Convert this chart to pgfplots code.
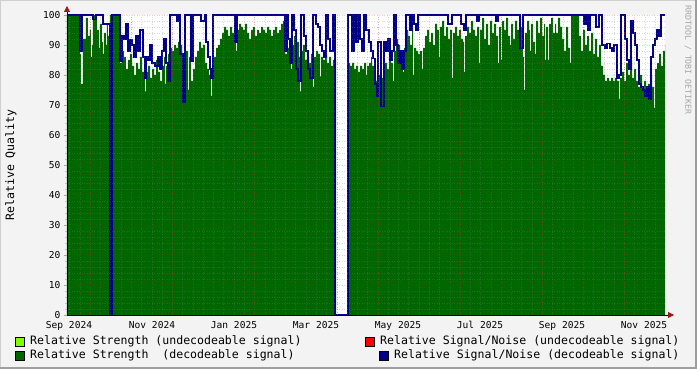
\documentclass[border=0pt]{standalone}
\usepackage{fontspec}
\setmainfont{DejaVu Sans Mono}
\usepackage{pgfplots}
\pgfplotsset{compat=1.18}
\usepackage{pgfplotstable}
\usetikzlibrary{arrows.meta}
\definecolor{bgc}{HTML}{F3F3F3}
\definecolor{shA}{HTML}{CFCFCF}
\definecolor{shB}{HTML}{9E9E9E}
\definecolor{dkgreen}{RGB}{0,102,0}
\definecolor{snblue}{RGB}{0,0,136}
\definecolor{limec}{RGB}{127,255,0}
\definecolor{redc}{RGB}{255,0,0}
\definecolor{arrowc}{RGB}{160,20,20}

\pgfplotstableread{
x y
67 100
80 87
81 77
83 92
86 99
88 93
90 95
91 86
92 90
93 100
97 95
99 89
100 97
102 91
103 87
104 94
106 90
107 97
108 93
110 100
120 84
122 88
124 86
126 82
128 85
130 87
132 83
134 80
136 84
138 82
140 86
142 81
144 79
145 74.5
146 81
148 83
150 79
152 82
154 80
156 85
158 81
160 78
162 83
164 86
165 77
166 83
168 87
170 89
172 88
174 90
176 89
178 91
180 90
182 87
184 85
186 88
188 75
189 86
191 78
193 82
195 86
197 88
199 91
201 89
203 90
205 84
207 82
209 80
211 73
212 83
214 86
216 89
218 90
220 92
222 94
224 96
226 95
228 93
230 96
232 94
234 95
236 88
237 95
239 97
241 96
243 95
245 97
247 94
249 92
251 95
253 96
255 93
257 95
259 94
261 96
263 95
265 94
267 96
269 95
271 93
273 95
275 96
277 94
279 95
281 97
283 98
285 87
287 89
289 86
291 82
292 90
294 93
296 84
297 91
299 86
300 74.5
301 88
303 90
305 85
307 86
309 84
311 87
313 76
314 86
316 88
318 87
320 79.5
321 86
323 85
325 87
327 84
329 86
331 83
333 85
336 0
348 84
350 83
352 84
354 82
356 83
358 81
360 83
362 82
364 84
366 80
367 83
369 84
371 86
372 83
374 80
376 78
377 75
379 80
381 79
383 80
385 84
387 82
389 86
391 84
393 78
394 88
396 92
398 90
400 86
402 88
403 81
404 89
406 95
408 93
410 90
412 96
413 80
414 89
416 88
418 87
420 88
422 82
423 89
425 93
427 95
429 91
431 94
433 90
435 97
437 95
439 86
440 96
442 98
444 93
446 96
448 92
450 95
452 79
453 94
455 96
457 93
459 95
461 92
463 91
464 81
465 93
467 96
469 94
471 98
473 95
475 93
477 96
479 84
480 95
482 99
484 92
486 97
488 90
490 98
492 94
494 97
496 93
498 84
499 96
501 85
502 98
504 95
506 99
508 93
510 90
511 97
513 92
515 98
517 95
519 89
521 96
523 86
524 75
525 94
527 98
529 95
530 88
531 97
533 91
535 87
536 98
538 94
540 99
542 93
544 97
545 85
546 96
548 85
549 97
551 99
553 94
555 97
556 94
558 99
560 96
562 92
564 88
566 96
568 89
570 84
571 100
579 93
581 88
583 95
585 90
587 93
589 88
591 94
593 87
595 92
597 86
599 90
601 83
603 80
605 78
607 79
609 78
611 79
613 78
615 79
617 78
619 72
620 79
622 81
624 78
626 84
628 80
630 85
632 79
634 82
636 78
638 76
640 80
642 75
644 78
646 73
648 77
650 80
652 76
654 69
655 82
657 84
659 87
661 83
663 88
665 90
}\strength

\pgfplotstableread{
x y
67 100
80 88
82 100
93 98.5
96 100
103 97
110 0
112 100
120 84.5
122 93
124 92
126 97
128 88
130 91.7
132 90
134 86
136 93
138 88
140 95
143 86
145 79
146 86
148 85
150 90
152 84
155 83
158 86
160 82
162 88
164 92
166 84
168 77.8
170 100
177 98
179 100
180 87
183 71
185 100
191 84.5
193 100
201 98
205 100
206 91
208 86
210 82
211 79
213 100
235 91
237 100
285 88
287 100
288 92
290 84
292 100
294 95
296 82
298 78
301 100
304 93
306 88
308 82
310 79
313 100
316 97
318 96
320 90
322 88
324 86
326 100
328 92
330 88
333 100
335 0
348 100
352 88
354 100
356 91
358 100
360 92
362 88
364 100
366 95
369 91
371 88
373 85.5
375 77
377 73
378 91
381 69.5
384 91
386 88
388 92
390 85
392 88
394 100
396 90
398 84
400 88
402 82
404 88
406 100
410 95
412 100
414 97
416 95
418 100
448 97
452 100
461 97
464 95
466 100
477 98
479 100
496 98
498 100
520 89
523 100
584 97
586 100
588 95
590 100
596 96
599 100
602 90
605 89
607 90.5
610 89
612 88
614 90
617 79
619 80
621 100
625 92
627 85
629 82
631 98
633 94
635 90
637 85
639 77
641 76
643 75
645 73
647 76
649 72
651 86
653 90
655 92
657 95
659 93
661 100
665 100
}\snr

\begin{document}
\begin{tikzpicture}
\useasboundingbox (-67bp,-54bp) rectangle (630bp,315bp);
\fill[bgc] (-67bp,-54bp) rectangle (630bp,315bp);
\draw[shA, line width=1bp] (-66.5bp,-53bp) -- (-66.5bp,314.5bp) -- (629bp,314.5bp);
\draw[shB, line width=2bp] (-67bp,-53bp) -- (629bp,-53bp) -- (629bp,315bp);
\begin{axis}[
  scale only axis, width=598bp, height=300bp,
  xmin=67, xmax=665, ymin=0, ymax=100,
  enlargelimits=false, clip=false,
  axis background/.style={fill=white},
  axis on top,
  axis lines=left,
  axis line style={black, line width=0.8bp, shorten >=-9bp, -{Triangle[length=6bp,width=6bp,color=arrowc]}},
  /pgf/number format/assume math mode=true,
  tick label style={font=\fontsize{9.6}{11}\selectfont, text=black},
  xtick={69,152,234,316,398,480,562,644},
  xticklabels={Sep 2024,Nov 2024,Jan 2025,Mar 2025,May 2025,Jul 2025,Sep 2025,Nov 2025},
  xtick style={draw=none},
  xmajorgrids=false,
  extra x ticks={90.2,131.3,172.4,213.5,254.6,295.7,336.8,377.9,419,460.1,501.2,542.3,583.4,624.5},
  extra x tick labels={},
  extra x tick style={grid=major, major tick length=3bp, tick style={draw=red!50, solid, line width=0.8bp}},
  minor xtick={69.65,79.925,...,665},
  xminorgrids=true,
  minor x tick style={draw=none},
  ytick={0,10,...,100},
  minor y tick num=4,
  ymajorgrids=true, yminorgrids=true,
  major tick length=3bp, minor tick length=2bp,
  ytick style={draw=red!50, line width=0.8bp},
  minor y tick style={draw=gray!50},
  tick align=outside,
  major grid style={draw=red, opacity=0.22, line width=0.6bp, dash pattern=on 1bp off 1.5bp},
  minor grid style={draw=gray, opacity=0.3, line width=0.6bp, dash pattern=on 1bp off 1.5bp},
  ylabel={Relative Quality},
  ylabel style={font=\fontsize{11.6}{13}\selectfont, at={(axis description cs:-0.094,0.5)}, anchor=center},
]
\addplot[const plot mark left, fill=dkgreen, draw=none, mark=none] table[x=x,y=y] {\strength} \closedcycle;
\addplot[const plot mark left, draw=snblue, line width=1.5bp, mark=none] table[x=x,y=y] {\snr};
\end{axis}
\node[rotate=-90, text=black!35, font=\fontsize{8.3}{9}\selectfont, inner sep=0] at (621bp,255bp) {RRDTOOL / TOBI OETIKER};
\begin{scope}[font=\fontsize{11.6}{13}\selectfont]
\draw[fill=limec, line width=0.6bp] (-52bp,-31bp) rectangle (-43bp,-22bp);
\node[anchor=west, inner sep=0] at (-37bp,-26.5bp) {Relative Strength (undecodeable signal)};
\draw[fill=redc, line width=0.6bp] (298bp,-31bp) rectangle (307bp,-22bp);
\node[anchor=west, inner sep=0] at (313bp,-26.5bp) {Relative Signal/Noise (undecodeable signal)};
\draw[fill=dkgreen, line width=0.6bp] (-52bp,-45bp) rectangle (-43bp,-36bp);
\node[anchor=west, inner sep=0] at (-37bp,-40.5bp) {Relative Strength\ \ (decodeable signal)};
\draw[fill=snblue, line width=0.6bp] (312bp,-45bp) rectangle (321bp,-36bp);
\node[anchor=west, inner sep=0] at (327bp,-40.5bp) {Relative Signal/Noise (decodeable signal)};
\end{scope}
\end{tikzpicture}
\end{document}
